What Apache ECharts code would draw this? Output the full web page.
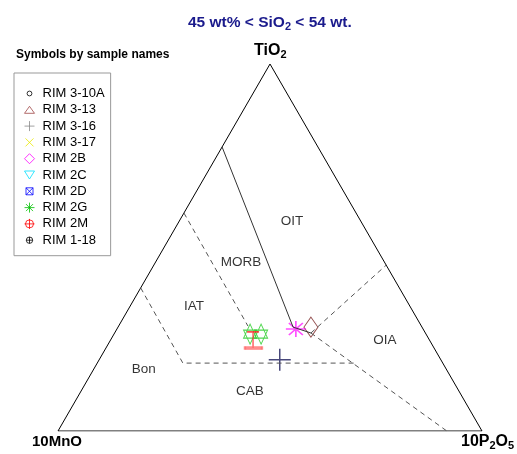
<!DOCTYPE html>
<html><head><meta charset="utf-8">
<script src="https://cdn.jsdelivr.net/npm/echarts@6/dist/echarts.min.js"></script>
<style>html,body{margin:0;padding:0;background:#fff}#c{width:517px;height:454px}</style>
</head><body><div id="c"></div>
<script>
// ---- Data (ternary compositions as fractions: [TiO2, 10MnO, 10P2O5]) ----
const sampleNames = ['RIM 3-10A','RIM 3-13','RIM 3-16','RIM 3-17','RIM 2B','RIM 2C','RIM 2D','RIM 2G','RIM 2M','RIM 1-18'];
const greenStars = [[0.264,0.415,0.321],[0.264,0.389,0.347]];
const redMark = [[0.248,0.416,0.336]];
const pinkBar = [[0.226,0.426,0.348]];
const navyCross = [[0.194,0.380,0.426]];
const magentaMark = [[0.278,0.300,0.422]];
const brownMark = [[0.283,0.262,0.455]];
// field boundaries
const outline = [[1,0,0],[0,1,0],[0,0,1],[1,0,0]];
const solidBoundary = [[0.774,0.226,0],[0.283,0.304,0.413],[0.267,0.270,0.463]];
const dashOIT_OIA = [[0.267,0.270,0.463],[0.452,0,0.548]];
const dashOIA_CAB = [[0.267,0.270,0.463],[0,0.083,0.917]];
const dashMORB_IAT = [[0.594,0.406,0],[0.286,0.409,0.305]];
const dashBon = [[0.39,0.61,0],[0.185,0.613,0.202],[0.185,0.203,0.612]];
const fieldNames = ['OIT','MORB','IAT','OIA','Bon','CAB'];
const fieldPos = [[0.572,0.162,0.266],[0.4605,0.338,0.2015],[0.3406,0.509,0.1504],[0.248,0.105,0.647],[0.169,0.713,0.118],[0.109,0.493,0.398]];

function toXY(c){ const s=c[0]+c[1]+c[2]; const t=c[0]/s, p=c[2]/s; return [p + t/2, t]; }
const conv = arr => arr.map(toXY);

const pad = 'M0,0M10,10';
const legendStyles = [
  {sym:'path://'+pad+'M5,2.6A2.4,2.4,0,1,1,5,7.4A2.4,2.4,0,1,1,5,2.6Z', col:'#000'},
  {sym:'path://'+pad+'M5,1.5L10,8.5L0,8.5Z', col:'#a04848'},
  {sym:'path://'+pad+'M5,0L5,10M0,5L10,5', col:'#8a8a8a'},
  {sym:'path://'+pad+'M1,1L9,9M9,1L1,9', col:'#e8e800'},
  {sym:'path://'+pad+'M5,0L10,5L5,10L0,5Z', col:'#ff00ff'},
  {sym:'path://'+pad+'M0,1L10,1L5,9Z', col:'#00e0ff'},
  {sym:'path://'+pad+'M1.5,1.5L8.5,1.5L8.5,8.5L1.5,8.5ZM1.5,1.5L8.5,8.5M8.5,1.5L1.5,8.5', col:'#0000ff'},
  {sym:'path://'+pad+'M5,0L5,10M0,5L10,5M1.5,1.5L8.5,8.5M8.5,1.5L1.5,8.5', col:'#00c000'},
  {sym:'path://'+pad+'M5,1A4,4,0,1,1,5,9A4,4,0,1,1,5,1ZM5,0L5,10M0,5L10,5', col:'#ff0000'},
  {sym:'path://'+pad+'M5,1.8A3.2,3.2,0,1,1,5,8.2A3.2,3.2,0,1,1,5,1.8ZM5,1.8L5,8.2M1.8,5L8.2,5', col:'#000'}
];

const series = [];
function lineSeries(data, dashed, color){
  series.push({type:'line', data:conv(data), symbol:'none', silent:true, animation:false,
    lineStyle:{color:color, width:1, type: dashed ? [5,4] : 'solid'}});
}
lineSeries(outline,false,'#000');
lineSeries(solidBoundary,false,'#333');
lineSeries(dashOIT_OIA,true,'#555');
lineSeries(dashOIA_CAB,true,'#555');
lineSeries(dashMORB_IAT,true,'#555');
lineSeries(dashBon,true,'#555');

sampleNames.forEach((n,i)=>{
  series.push({type:'scatter', name:n, data:[], symbol:legendStyles[i].sym,
    itemStyle:{color:'none', borderColor:legendStyles[i].col, borderWidth:1}});
});

function markSeries(data, sym, size, color, fill, width){
  series.push({type:'scatter', data:conv(data), symbol:sym, symbolSize:size, silent:true, animation:false,
    itemStyle:{color: fill || 'none', borderColor:color, borderWidth:width||1}});
}
markSeries(brownMark,'path://M7,0L14,10L7,20L0,10Z',[14,20],'#7a2424');
markSeries(magentaMark,'path://M10,0L10,16M0,8L20,8M3,2L17,14M17,2L3,14',[20,16],'#ff22ff',null,1.5);
markSeries(greenStars,'path://M6.5,0L13,14L0,14ZM0,6L13,6L6.5,20Z',[13,20],'#22cc22');
markSeries(redMark,'path://M0,0L12,0M6,0L6,16',[12,16],'#ff2020',null,1.5);
markSeries(pinkBar,'rect',[17,3],'#ff7070','#ff7070',0);
markSeries(navyCross,'path://M11,0L11,22M0,11L22,11',[22,22],'#1a1a5a',null,1.5);

series.push({type:'scatter', data: fieldNames.map((n,i)=>({name:n, value:toXY(fieldPos[i])})),
  symbolSize:0, silent:true, animation:false,
  label:{show:true, position:'inside', formatter:'{b}', color:'#000', fontSize:13.5, fontFamily:'Liberation Sans, Arial'}});

const F = 'Liberation Sans, Arial, sans-serif';
const option = {
  animation:false,
  grid:{left:58, top:64, width:424, height:367},
  xAxis:{type:'value', min:0, max:1, show:false},
  yAxis:{type:'value', min:0, max:1, show:false},
  title:[
    {text:'{a|45 wt% < SiO}{s|2}{a| < 54 wt.}', left:183, top:8,
      textStyle:{rich:{a:{fontSize:15.5, fontWeight:'bold', color:'#1a1a8c', fontFamily:F, lineHeight:20},
                       s:{fontSize:11, fontWeight:'bold', color:'#1a1a8c', fontFamily:F, padding:[7,0,0,0]}}}},
    {text:'Symbols by sample names', left:11, top:44, textStyle:{fontSize:12, fontWeight:'bold', color:'#000', fontFamily:F}},
    {text:'{a|TiO}{s|2}', left:249, top:36,
      textStyle:{rich:{a:{fontSize:16, fontWeight:'bold', color:'#000', fontFamily:F, lineHeight:20}, s:{fontSize:11, fontWeight:'bold', color:'#000', fontFamily:F, padding:[7,0,0,0]}}}},
    {text:'{a|10MnO}', left:27, top:427,
      textStyle:{rich:{a:{fontSize:15, fontWeight:'bold', color:'#000', fontFamily:F, lineHeight:20}}}},
    {text:'{a|10P}{s|2}{a|O}{s|5}', left:456, top:427,
      textStyle:{rich:{a:{fontSize:16, fontWeight:'bold', color:'#000', fontFamily:F, lineHeight:20}, s:{fontSize:11, fontWeight:'bold', color:'#000', fontFamily:F, padding:[7,0,0,0]}}}}
  ],
  legend:{data:sampleNames, orient:'vertical', left:14, top:73, padding:[13,6,8,8],
    itemWidth:10, itemHeight:10, itemGap:1.3, selectedMode:false,
    borderColor:'#999', borderWidth:1, borderRadius:0,
    itemStyle:{borderWidth:1},
    textStyle:{fontSize:13, color:'#000', fontFamily:F, lineHeight:14, padding:[0,0,0,3]}},
  series: series
};
const chart = echarts.init(document.getElementById('c'), null, {renderer:'canvas'});
chart.setOption(option);
</script></body></html>
